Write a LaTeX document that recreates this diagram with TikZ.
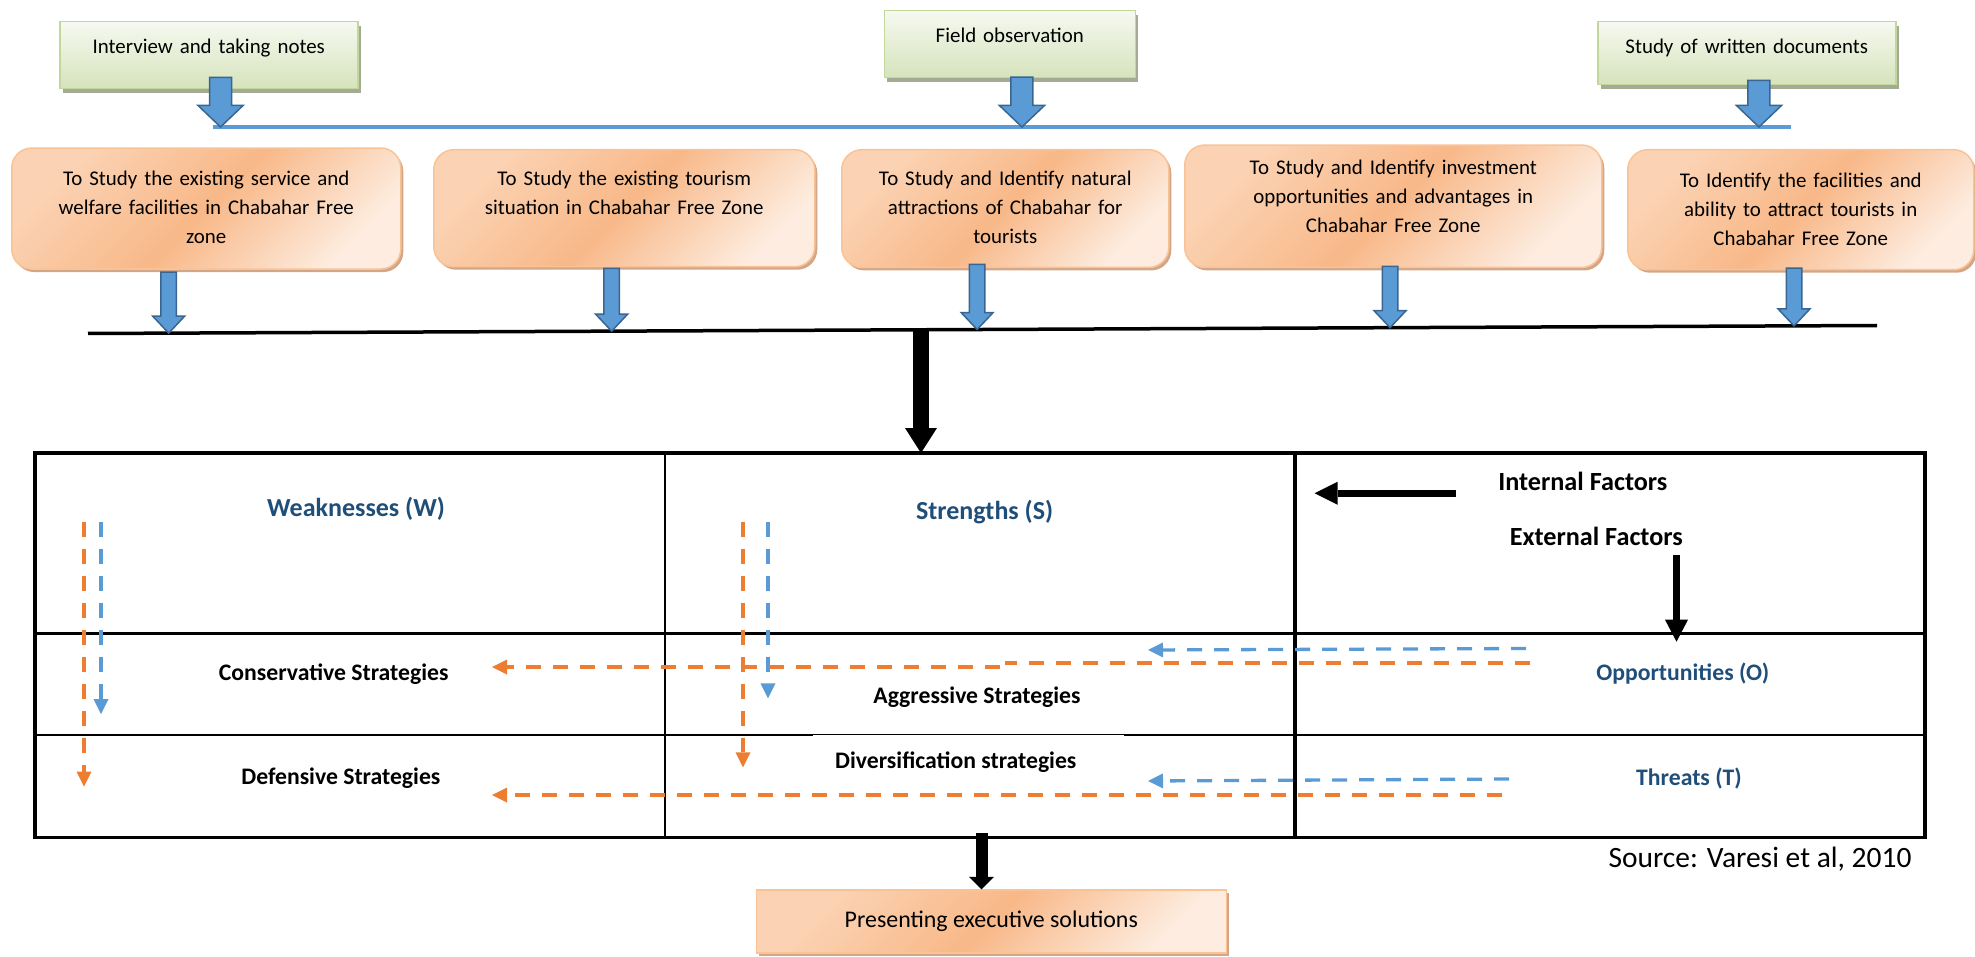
\documentclass[tikz,border=0pt]{standalone}
\usepackage{fontspec}
\setmainfont{Carlito}
\usetikzlibrary{arrows.meta}
\usetikzlibrary{shadows}
\usetikzlibrary{calc}
\usetikzlibrary{positioning}

\definecolor{arrfill}{HTML}{5B9BD5}
\definecolor{arrline}{HTML}{3A6591}
\definecolor{grtop}{HTML}{F6F9F0}
\definecolor{grbot}{HTML}{D6E3BC}
\definecolor{grline}{HTML}{C3D69B}
\definecolor{grshadow}{HTML}{A4AB94}
\definecolor{ordark}{HTML}{F8B888}
\definecolor{ormid}{HTML}{FBD3B4}
\definecolor{orlight}{HTML}{FDECDF}
\definecolor{orline}{HTML}{F9C396}
\definecolor{orshadow}{HTML}{D3A687}
\definecolor{dashor}{HTML}{ED7D31}
\definecolor{dashbl}{HTML}{5B9BD5}
\definecolor{swotblue}{HTML}{1F4E79}

% down block arrow: top point, tip point, half shaft, half head, head length
\newcommand{\blockdown}[5]{%
  \filldraw[blockarrow] let \p1=#1, \p2=#2 in
    (\x2-#3pt,\y1) -- (\x2-#3pt,\y2+#5pt) -- (\x2-#4pt,\y2+#5pt) -- (\x2,\y2)
    -- (\x2+#4pt,\y2+#5pt) -- (\x2+#3pt,\y2+#5pt) -- (\x2+#3pt,\y1) -- cycle;}

\tikzset{
  blockarrow/.style={fill=arrfill, draw=arrline, line width=1.5pt},
  grbox/.style={draw=grline, line width=1.5pt, top color=grtop, bottom color=grbot,
    drop shadow={shadow xshift=3pt, shadow yshift=-4.5pt, fill=grshadow, opacity=1},
    anchor=north west, inner sep=0pt, align=center, text height=32pt,
    font=\fontsize{20.9}{29}\selectfont},
  orbox/.style={rounded corners=20pt, draw=orline, line width=1.5pt,
    top color=ormid, bottom color=orlight, middle color=ordark, shading angle=45,
    drop shadow={shadow xshift=2.5pt, shadow yshift=-3pt, fill=orshadow, opacity=1},
    anchor=north west, inner sep=0pt, align=center,
    font=\fontsize{20.9}{29}\selectfont},
  presbox/.style={draw=orline, line width=1.5pt,
    top color=ormid, bottom color=orlight, middle color=ordark, shading angle=45,
    drop shadow={shadow xshift=2.5pt, shadow yshift=-3pt, fill=orshadow, opacity=1},
    minimum width=470pt, minimum height=63pt, inner sep=0pt,
    font=\fontsize{23.9}{28}\selectfont},
  swothead/.style={anchor=base, inner sep=0pt, text=swotblue, font=\bfseries\fontsize{26}{30}\selectfont},
  swotside/.style={anchor=base, inner sep=0pt, text=swotblue, font=\bfseries\fontsize{23.7}{28}\selectfont},
  factor/.style={anchor=base, inner sep=0pt, font=\bfseries\fontsize{26.2}{30}\selectfont},
  strat/.style={anchor=base, inner sep=0pt, font=\bfseries\fontsize{23.7}{28}\selectfont},
  orflow/.style={draw=dashor, line width=3.3pt, dash pattern=on 15pt off 12pt,
    -{Triangle[length=15pt,width=15pt,line width=0pt 0 0]}},
  blflow/.style={draw=dashbl, line width=3.3pt, dash pattern=on 15pt off 12pt,
    -{Triangle[length=15pt,width=15pt,line width=0pt 0 0]}},
}

\begin{document}
\begin{tikzpicture}[x=1pt, y=-1pt]
  \useasboundingbox (0,0) rectangle (1975,957);

  % methods of gathering data
  \node[grbox, text width=298pt, text depth=35pt] (intv) at (59,21) {Interview and taking notes};
  \node[grbox, text width=251pt, text depth=35pt] (field) at (883.5,10) {Field observation};
  \node[grbox, text width=298pt, text depth=31pt] (docs) at (1597,21) {Study of written documents};

  \coordinate (bL) at (212.5,127);
  \coordinate (bR) at (1791,127);
  \draw[draw=arrfill, line width=3.3pt] (bL) -- (bR);

  \blockdown{([yshift=12pt]intv.south)}{($(bL)!0.0051!(bR)$)}{11}{22.5}{21.5}
  \blockdown{([yshift=1.3pt]field.south)}{($(bL)!0.5128!(bR)$)}{11}{22.5}{21.5}
  \blockdown{([yshift=5pt]docs.south)}{($(bL)!0.9797!(bR)$)}{11}{22.5}{21.5}

  % the five aims
  \node[orbox, text width=389pt, text height=37.7pt, text depth=83.3pt] (o1) at (11,147.3)
    {To Study the existing service and\\ welfare facilities in Chabahar Free\\ zone};
  \node[orbox, text width=381pt, text height=36pt, text depth=81pt] (o2) at (433,149)
    {To Study the existing tourism\\ situation in Chabahar Free Zone};
  \node[orbox, text width=327pt, text height=36pt, text depth=81.7pt] (o3) at (841,149)
    {To Study and Identify natural\\ attractions of Chabahar for\\ tourists};
  \node[orbox, text width=417pt, text height=29.7pt, text depth=92.7pt] (o4) at (1184,144.3)
    {To Study and Identify investment\\ opportunities and advantages in\\ Chabahar Free Zone};
  \node[orbox, text width=346pt, text height=37.7pt, text depth=82.3pt] (o5) at (1627,149)
    {To Identify the facilities and\\ ability to attract tourists in\\ Chabahar Free Zone};

  \coordinate (kL) at (88,333.5);
  \coordinate (kR) at (1877,325.5);
  \draw[line width=3.5pt] (kL) -- (kR);

  \blockdown{([yshift=-2.4pt]o1.south)}{($(kL)!0.0451!(kR)$)}{7.75}{16}{17}
  \blockdown{([yshift=-1pt]o2.south)}{($(kL)!0.2927!(kR)$)}{7.75}{16}{17}
  \blockdown{([yshift=3.7pt]o3.south)}{($(kL)!0.4970!(kR)$)}{7.75}{16}{17}
  \blockdown{([yshift=1.7pt]o4.south)}{($(kL)!0.7278!(kR)$)}{7.75}{16}{17}
  \blockdown{([yshift=2.3pt]o5.south)}{($(kL)!0.9536!(kR)$)}{7.75}{16}{17}

  % SWOT table
  \coordinate (tNW) at (35,453);
  \coordinate (tSE) at (1925,837.5);
  \draw[line width=3.3pt] (tNW) rectangle (tSE);
  \draw[line width=2.2pt] (665,453) -- (665,837.5);
  \draw[line width=3.2pt] (1295,453) -- (1295,837.5);
  \draw[line width=3.3pt] (35,633.3) -- (1925,633.3);
  \draw[line width=2pt] (35,735) -- (813,735) (1124,735) -- (1925,735);
  \draw[line width=1pt] (813,734.5) -- (1124,734.5);

  \coordinate (kdrop) at ($(kL)!0.4656!(kR)$);
  \draw[line width=16pt, -{Triangle[length=25pt,width=32pt,line width=0pt 0 0]}] (kdrop) -- (kdrop |- tNW);

  \node[swothead] (weak) at (356,516) {Weaknesses (W)};
  \node[swothead] (strg) at (984.6,519) {Strengths (S)};
  \node[factor] (intf) at (1582.8,490.7) {Internal Factors};
  \node[factor] (extf) at (1596.3,545) {External Factors};
  \node[strat] (cons) at (333.7,680) {Conservative Strategies};
  \node[strat] (aggr) at (977,703.3) {Aggressive Strategies};
  \node[swotside] (oppo) at (1682.7,680.7) {Opportunities (O)};
  \node[strat] (defs) at (340.9,784) {Defensive Strategies};
  \node[strat] (divs) at (955.8,768) {Diversification strategies};
  \node[swotside] (thrt) at (1689,785) {Threats (T)};

  \coordinate (inTail) at (1456,493.3);
  \coordinate (inTip) at (1314.6,493.3);
  \coordinate (exTail) at (1676.5,555);
  \coordinate (exTip) at (1676.5,641.7);
  \draw[line width=7pt, -{Triangle[length=23pt,width=23pt,line width=0pt 0 0]}] (inTail) -- (inTip);
  \draw[line width=7.5pt, -{Triangle[length=22pt,width=23pt,line width=0pt 0 0]}] (exTail) -- (exTip);

  % flows between the cells
  \coordinate (wOrA) at (84,521.7);   \coordinate (wOrB) at (84,786.7);
  \coordinate (wBlA) at (101,521.7);  \coordinate (wBlB) at (101,714);
  \coordinate (sOrA) at (743,521.7);  \coordinate (sOrB) at (743,767.3);
  \coordinate (sBlA) at (768,521.7);  \coordinate (sBlB) at (768,698.3);
  \coordinate (oOrA) at (1530,663);   \coordinate (oOrM) at (1005,663);
  \coordinate (oOrN) at (1000,667);   \coordinate (oOrB) at (492,667);
  \coordinate (oBlA) at (1526,648.5); \coordinate (oBlB) at (1148,650);
  \coordinate (tOrA) at (1502,795);   \coordinate (tOrB) at (492,795);
  \coordinate (tBlA) at (1509,779);   \coordinate (tBlB) at (1148,781);

  \draw[orflow] (wOrA) -- (wOrB);
  \draw[blflow] (wBlA) -- (wBlB);
  \draw[orflow] (sOrA) -- (sOrB);
  \draw[blflow] (sBlA) -- (sBlB);
  \draw[orflow, -] (oOrA) -- (oOrM);
  \draw[orflow] (oOrN) -- (oOrB);
  \draw[blflow] (oBlA) -- (oBlB);
  \draw[orflow] (tOrA) -- (tOrB);
  \draw[blflow] (tBlA) -- (tBlB);

  % result
  \node[anchor=base, inner sep=0pt, font=\fontsize{29.5}{33}\selectfont] (src) at (1760,867.3) {Source: Varesi et al, 2010};
  \node[presbox] (pres) at (991.3,921.7) {Presenting executive solutions};
  \coordinate (tabOut) at (981.5,833);
  \draw[line width=12pt, -{Triangle[length=12.5pt,width=25pt,line width=0pt 0 0]}] (tabOut) -- (tabOut |- pres.north);
\end{tikzpicture}
\end{document}
